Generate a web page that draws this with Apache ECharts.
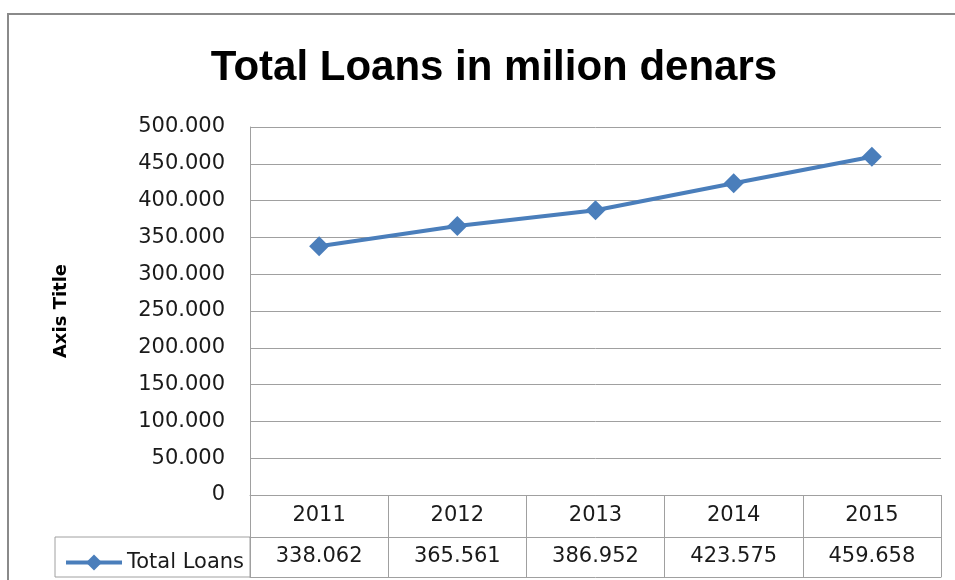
<!DOCTYPE html>
<html>
<head>
<meta charset="utf-8">
<script src="https://cdn.jsdelivr.net/npm/echarts@6/dist/echarts.min.js"></script>
<style>html,body{margin:0;padding:0;background:#fff;}#c{width:955px;height:580px;}</style>
</head>
<body>
<div id="c"></div>
<script>
const years = ['2011', '2012', '2013', '2014', '2015'];
const totalLoans = [338062, 365561, 386952, 423575, 459658];
const seriesName = 'Total Loans';
const titleText = 'Total Loans in milion denars';
const yAxisTitle = 'Axis Title';

function fmt(v) {
  return String(Math.round(v)).replace(/\B(?=(\d{3})+(?!\d))/g, '.');
}

const gridColor = '#a0a0a0';
const txt = '#1a1a1a';
const font = 'DejaVu Sans';

const chart = echarts.init(document.getElementById('c'), null, {renderer: 'canvas'});
chart.setOption({
  animation: false,
  backgroundColor: '#fff',
  title: {
    text: titleText,
    left: 489, top: 42, textAlign: 'center',
    textStyle: {fontFamily: 'Liberation Sans', fontWeight: 'bold', fontSize: 42, color: '#000'}
  },
  legend: {
    data: [seriesName],
    left: 59, top: 547,
    itemWidth: 56, itemHeight: 20,
    lineStyle: {width: 4},
    textStyle: {fontFamily: font, fontSize: 21, color: txt}
  },
  grid: {left: 250, width: 691, top: 127, height: 368},
  xAxis: [
    {
      type: 'category', data: years, position: 'bottom',
      axisLine: {show: true, lineStyle: {color: gridColor, width: 1}},
      axisTick: {show: true, length: 82, lineStyle: {color: gridColor}},
      axisLabel: {margin: 21, verticalAlign: 'middle', fontFamily: font, fontSize: 21, color: txt}
    },
    {
      type: 'category', data: years, position: 'bottom', offset: 42,
      axisLine: {show: true, lineStyle: {color: gridColor, width: 1}},
      axisTick: {show: false},
      axisLabel: {margin: 20, verticalAlign: 'middle', fontFamily: font, fontSize: 21, color: txt,
        formatter: (v, i) => fmt(totalLoans[i])}
    },
    {
      type: 'category', data: years, position: 'bottom', offset: 82,
      axisLine: {show: true, lineStyle: {color: gridColor, width: 1}},
      axisTick: {show: false},
      axisLabel: {show: false}
    }
  ],
  yAxis: {
    type: 'value', min: 0, max: 500000, interval: 50000,
    name: yAxisTitle, nameLocation: 'middle', nameGap: 180, nameRotate: 90,
    nameTextStyle: {fontFamily: font, fontWeight: 'bold', fontSize: 18, color: '#000'},
    axisLine: {show: true, lineStyle: {color: gridColor, width: 1}},
    axisTick: {show: false},
    splitLine: {lineStyle: {color: gridColor, width: 1}},
    axisLabel: {margin: 25, fontFamily: font, fontSize: 21, color: txt, formatter: v => fmt(v)}
  },
  series: [{
    name: seriesName, type: 'line', data: totalLoans, xAxisIndex: 0,
    symbol: 'diamond', symbolSize: 20,
    lineStyle: {color: '#4a7ebb', width: 4},
    itemStyle: {color: '#4a7ebb'}
  }],
  graphic: [
    {type: 'rect', shape: {x: 55, y: 537, width: 195, height: 40},
     style: {fill: 'none', stroke: gridColor, lineWidth: 1}, silent: true},
    {type: 'rect', shape: {x: 8, y: 14, width: 1000, height: 600},
     style: {fill: 'none', stroke: '#8a8a8a', lineWidth: 2}, silent: true, z: -1}
  ]
});
</script>
</body>
</html>
